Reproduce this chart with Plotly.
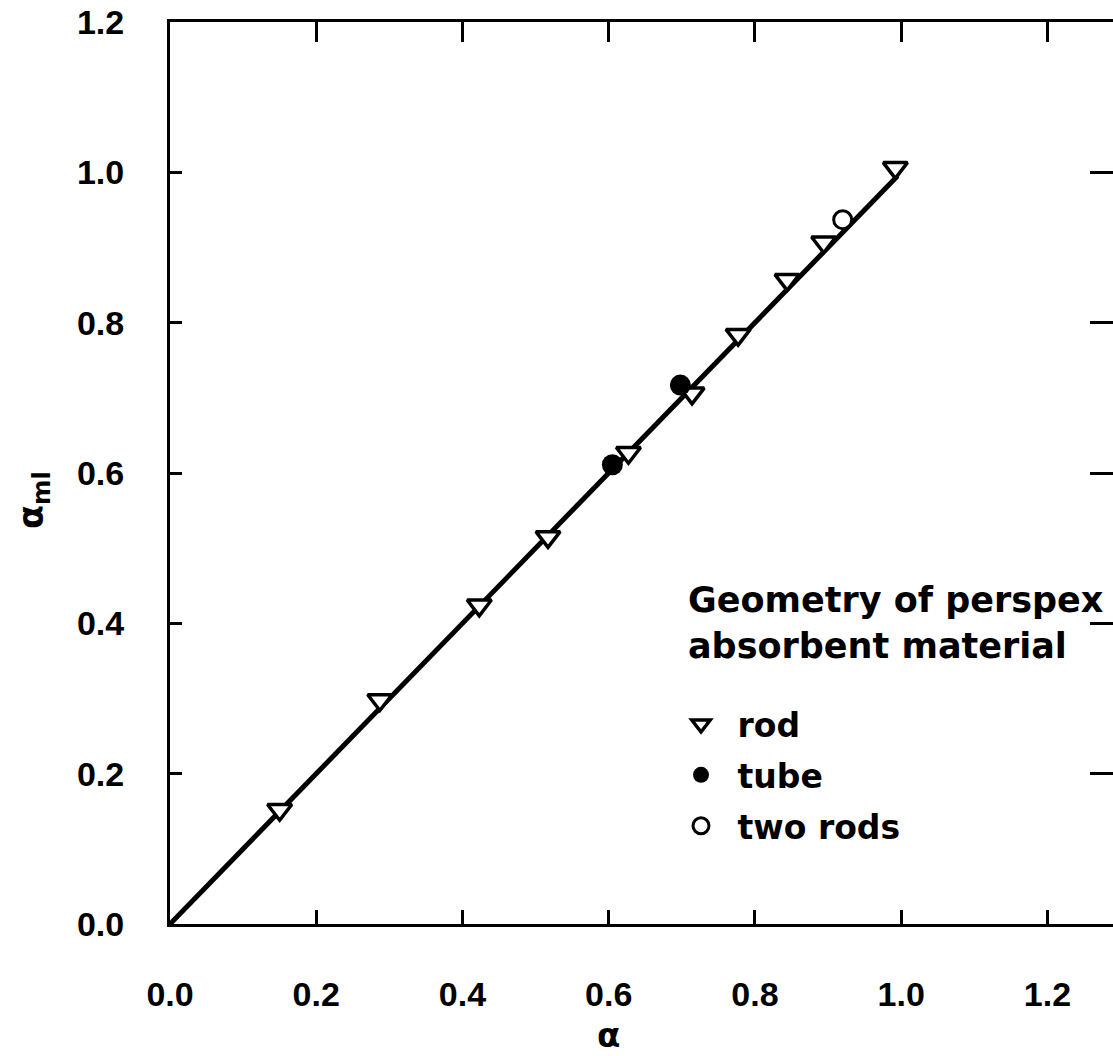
import plotly.graph_objects as go

# ---- data ----
fit_x = [0.0, 0.995]
fit_y = [0.0, 0.995]

rod_x = [0.150, 0.287, 0.423, 0.517, 0.627, 0.714, 0.777, 0.844, 0.894, 0.992]
rod_y = [0.152, 0.298, 0.424, 0.515, 0.627, 0.706, 0.784, 0.857, 0.907, 1.006]

tube_x = [0.605, 0.698]
tube_y = [0.611, 0.717]

tworods_x = [0.920]
tworods_y = [0.937]

tick_vals = [0.0, 0.2, 0.4, 0.6, 0.8, 1.0, 1.2]
tick_text = ["0.0", "0.2", "0.4", "0.6", "0.8", "1.0", "1.2"]

legend_title = "Geometry of perspex<br>absorbent material"
x_title = "α"
y_title = "α<sub>ml</sub>"

X_RANGE = [0.0, 1.2897]
Y_RANGE = [0.0, 1.2]

# layout geometry (pixels)
W, H = 1113, 1056
M_L, M_R, M_T, M_B = 170, 0, 22, 60
PLOT_H = H - M_T - M_B          # paper height in px
FRAME_BOTTOM = 924              # pixel row of the x axis line
LABEL_AXIS = 971                # pixel row of the (invisible) label axis


def py(p):
    """pixel row -> paper y"""
    return 1 - (p - M_T) / PLOT_H


def px(p):
    """pixel column -> paper x"""
    return (p - M_L) / (W - M_L - M_R)


tick_font = dict(family="Liberation Sans", size=34, color="black", weight="bold")
text_font = dict(family="DejaVu Sans", size=33, color="black", weight="bold")
title_font = dict(family="DejaVu Sans", size=35, color="black", weight="bold")

fig = go.Figure()

fig.add_trace(go.Scatter(x=fit_x, y=fit_y, mode="lines",
                         line=dict(color="black", width=5),
                         showlegend=False, hoverinfo="skip"))
fig.add_trace(go.Scatter(x=rod_x, y=rod_y, mode="markers", name=" rod",
                         legendgroup="a",
                         marker=dict(symbol="triangle-down", size=21, color="white",
                                     line=dict(color="black", width=3.5))))
fig.add_trace(go.Scatter(x=tube_x, y=tube_y, mode="markers", name=" tube",
                         legendgroup="b",
                         marker=dict(symbol="circle", size=21, color="black",
                                     line=dict(color="black", width=0))))
fig.add_trace(go.Scatter(x=tworods_x, y=tworods_y, mode="markers", name=" two rods",
                         legendgroup="c",
                         marker=dict(symbol="circle", size=18, color="white",
                                     line=dict(color="black", width=3))))
# empty traces so that the frame axes (top / right / bottom ticks) get drawn
fig.add_trace(go.Scatter(x=[None], y=[None], xaxis="x2", yaxis="y2",
                         showlegend=False, hoverinfo="skip"))
fig.add_trace(go.Scatter(x=[None], y=[None], xaxis="x3", yaxis="y",
                         showlegend=False, hoverinfo="skip"))

axis_common = dict(showgrid=False, zeroline=False, tickcolor="black", tickwidth=3)
y_domain = [(M_T + PLOT_H - FRAME_BOTTOM) / PLOT_H, 1]

fig.update_layout(
    width=W, height=H,
    margin=dict(l=M_L, r=M_R, t=M_T, b=M_B),
    paper_bgcolor="white", plot_bgcolor="white",
    # x tick labels, on a free axis set below the frame
    xaxis=dict(range=X_RANGE, tickvals=tick_vals, ticktext=tick_text,
               anchor="free", position=py(LABEL_AXIS),
               showline=False, ticks="", tickfont=tick_font,
               showgrid=False, zeroline=False),
    # bottom frame line with inside ticks
    xaxis3=dict(range=X_RANGE, tickvals=tick_vals, overlaying="x", side="bottom",
                anchor="y", showline=True, linecolor="black", linewidth=3,
                ticks="inside", ticklen=14, showticklabels=False, **axis_common),
    # top frame
    xaxis2=dict(range=X_RANGE, tickvals=tick_vals, overlaying="x", side="top",
                anchor="y2", showline=True, linecolor="black", linewidth=3,
                ticks="inside", ticklen=20, showticklabels=False, **axis_common),
    yaxis=dict(range=Y_RANGE, domain=y_domain, tickvals=tick_vals, ticktext=tick_text,
               anchor="x3",
               showline=True, linecolor="black", linewidth=3,
               ticks="inside", ticklen=12, tickfont=tick_font, ticklabelstandoff=36,
               **axis_common),
    # right side ticks (frame edge is outside the picture)
    yaxis2=dict(range=Y_RANGE, domain=y_domain, tickvals=tick_vals, overlaying="y",
                side="right", anchor="x2", showline=False, ticks="inside", ticklen=23,
                showticklabels=False, **axis_common),
    showlegend=True,
    legend=dict(x=px(676), y=py(696), xanchor="left", yanchor="top",
                font=text_font, bgcolor="rgba(0,0,0,0)", itemwidth=40,
                tracegroupgap=5, traceorder="grouped"),
    annotations=[
        dict(text=legend_title, xref="paper", yref="paper",
             x=px(686), y=py(578),
             xanchor="left", yanchor="top", align="left", showarrow=False,
             font=title_font),
        dict(text=x_title, xref="x", yref="paper", x=0.6, y=py(1035),
             xanchor="center", yanchor="middle", showarrow=False,
             font=dict(family="DejaVu Sans", size=34, color="black", weight="bold")),
        dict(text=y_title, xref="paper", yref="paper", x=px(33), y=py(500),
             xanchor="center", yanchor="middle", textangle=-90, showarrow=False,
             font=dict(family="DejaVu Sans", size=35, color="black", weight="bold")),
    ],
)

fig.write_html("out.html")
